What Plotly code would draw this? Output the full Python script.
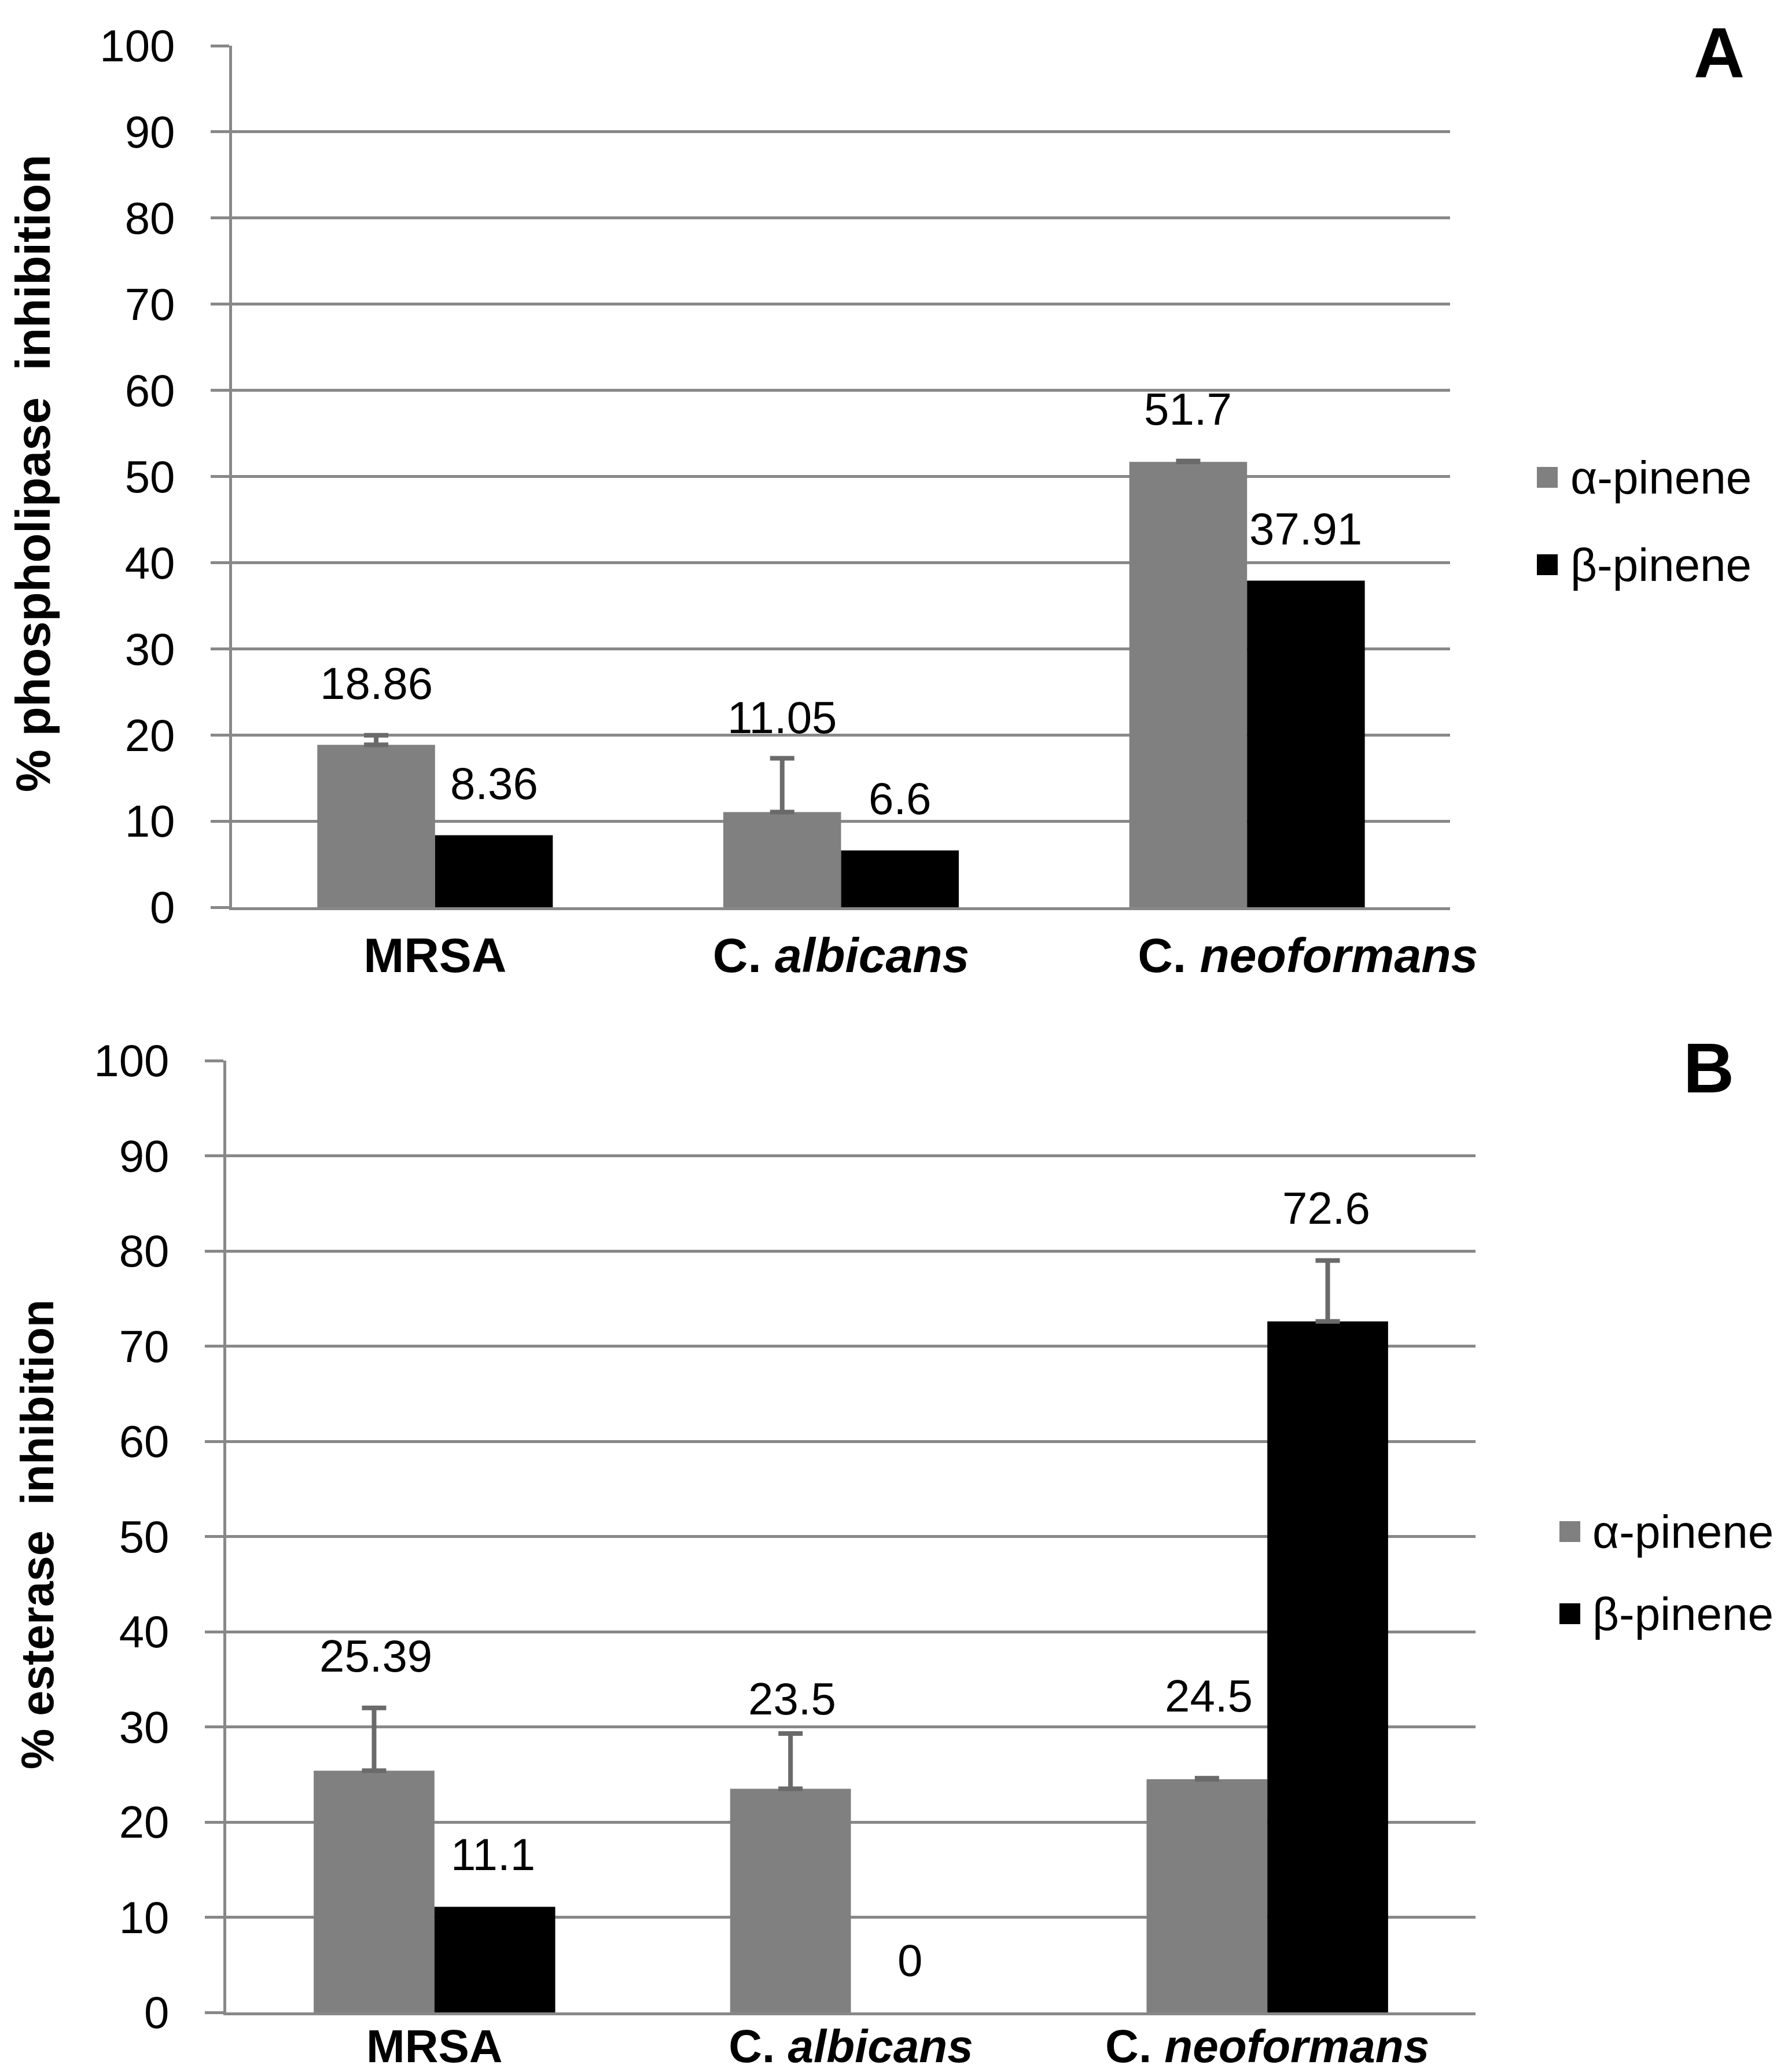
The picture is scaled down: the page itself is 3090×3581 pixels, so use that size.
import numpy as np
import plotly.graph_objects as go

# ---------------- data ----------------
categories = ["MRSA", "C. albicans", "C. neoformans"]
category_labels_a = ["<b>MRSA</b>", "<b>C. <i>albicans</i></b>",
                     "<b>\u00a0\u00a0\u00a0\u00a0\u00a0\u00a0\u00a0\u00a0\u00a0C. <i>neoformans</i></b>"]
category_labels_b = ["<b>MRSA</b>", "<b>C. <i>albicans</i></b>", "<b>C. <i>neoformans</i></b>"]
series_names = ["α-pinene", "β-pinene"]

phospholipase_alpha = [18.86, 11.05, 51.7]
phospholipase_beta = [8.36, 6.6, 37.91]
phospholipase_alpha_err = [1.1, 6.25, 0.1]
phospholipase_beta_err = [None, None, None]

esterase_alpha = [25.39, 23.5, 24.5]
esterase_beta = [11.1, 0, 72.6]
esterase_alpha_err = [6.6, 5.8, 0.1]
esterase_beta_err = [None, None, 6.4]

y_ticks = [0, 10, 20, 30, 40, 50, 60, 70, 80, 90, 100]
panel_letters = ["A", "B"]
y_titles = ["% phospholipase\u00a0\u00a0inhibition", "% esterase\u00a0\u00a0inhibition"]

# ---------------- style ----------------
W, H = 3090, 3581
PAGE_MARGIN = 8  # default body margin of the html page
FONT = "Liberation Sans, Arial, sans-serif"
GRID = "#888888"
COLORS = ["#808080", "#000000"]
ERR_COLOR = "#6a6a6a"

# manual nudges (px) of some value labels, as in the original figure
label_nudge = {(0, 0, 1): -20, (1, 0, 1): -30, (1, 0, 2): 52}


def px_x(px):
    return (px - PAGE_MARGIN) / W


def px_y(py):
    return 1 - (py - PAGE_MARGIN) / H


panels = [
    dict(x=(401, 2506), y=(79, 1568), gap=0.42, suffix="", ystand=46, xstand=6,
         labels=category_labels_a, xfont=84),
    dict(x=(391, 2550), y=(1833, 3478), gap=0.435, suffix="2", ystand=46, xstand=-15,
         labels=category_labels_b, xfont=80),
]

data_sets = [
    (phospholipase_alpha, phospholipase_beta, phospholipase_alpha_err, phospholipase_beta_err),
    (esterase_alpha, esterase_beta, esterase_alpha_err, esterase_beta_err),
]


def err_array(lst):
    # missing error values become NaN so that no error bar is drawn there
    return np.array([np.nan if e is None else e for e in lst], dtype=float)


def err_minus(lst):
    return np.array([np.nan if e is None else 0.0 for e in lst], dtype=float)


fig = go.Figure()
annotations = []
shapes = []

for p, (panel, ds) in enumerate(zip(panels, data_sets)):
    xa = "x" + panel["suffix"]
    ya = "y" + panel["suffix"]
    vals = [ds[0], ds[1]]
    errs = [ds[2], ds[3]]
    for k in range(2):
        has_err = any(e is not None for e in errs[k])
        fig.add_trace(go.Bar(
            x=categories, y=vals[k], name=series_names[k],
            marker=dict(color=COLORS[k], line=dict(width=0)),
            error_y=dict(type="data", symmetric=False, array=err_array(errs[k]),
                         arrayminus=err_minus(errs[k]),
                         color=ERR_COLOR, thickness=8, width=21,
                         visible=has_err),
            xaxis=xa, yaxis=ya, showlegend=False,
        ))

    x0, x1 = panel["x"]
    cat_px = (x1 - x0) / len(categories)
    bar_px = cat_px * (1 - panel["gap"]) / 2
    for k in range(2):
        for i, c in enumerate(categories):
            v = vals[k][i]
            e = errs[k][i] or 0
            annotations.append(dict(
                x=c, y=v + e, xref=xa, yref=ya,
                text=f"{v:g}", showarrow=False,
                xshift=(k - 0.5) * bar_px, yshift=90 + label_nudge.get((p, k, i), 0),
                yanchor="middle", xanchor="center",
                font=dict(family=FONT, size=78, color="black"),
            ))

    axis_common = dict(showline=True, linecolor=GRID, linewidth=5, automargin=False)
    fig.update_layout(**{
        ("xaxis" + panel["suffix"]): dict(
            domain=[px_x(x0), px_x(x1)], anchor=ya,
            tickmode="array", tickvals=categories, ticktext=panel["labels"],
            ticks="", showgrid=False, ticklabelstandoff=panel["xstand"],
            tickfont=dict(family=FONT, size=panel["xfont"], color="black"),
            **axis_common),
        ("yaxis" + panel["suffix"]): dict(
            domain=[px_y(panel["y"][1]), px_y(panel["y"][0])], anchor=xa,
            range=[0, 100], tickmode="array", tickvals=y_ticks,
            ticks="outside", ticklen=32, tickwidth=5, tickcolor=GRID,
            showgrid=True, gridcolor=GRID, gridwidth=5, zeroline=False,
            ticklabelstandoff=panel["ystand"],
            tickfont=dict(family=FONT, size=78, color="black"),
            **axis_common),
    })

# y-axis titles
y_title_pos = [(57, 818, 83), (64, 2652, 79)]
for t, (tx, ty, fs) in zip(y_titles, y_title_pos):
    annotations.append(dict(
        x=px_x(tx), y=px_y(ty), xref="paper", yref="paper",
        text=f"<b>{t}</b>", textangle=-90, showarrow=False,
        xanchor="center", yanchor="middle",
        font=dict(family=FONT, size=fs, color="black"),
    ))

# panel letters
letter_pos = [(2971, 92), (2953, 1846)]
for t, (tx, ty) in zip(panel_letters, letter_pos):
    annotations.append(dict(
        x=px_x(tx), y=px_y(ty), xref="paper", yref="paper",
        text=f"<b>{t}</b>", showarrow=False,
        xanchor="center", yanchor="middle",
        font=dict(family=FONT, size=122, color="black"),
    ))

# legends (square swatch + label), one per panel
legend_pos = [dict(sx=2674, tx=2712, ys=[825, 976]), dict(sx=2713, tx=2750, ys=[2647, 2789])]
SQ = 36
for lp in legend_pos:
    for k in range(2):
        cy = lp["ys"][k]
        shapes.append(dict(
            type="rect", xref="paper", yref="paper",
            x0=px_x(lp["sx"] - SQ / 2), x1=px_x(lp["sx"] + SQ / 2),
            y0=px_y(cy + SQ / 2), y1=px_y(cy - SQ / 2),
            fillcolor=COLORS[k], line=dict(width=0),
        ))
        annotations.append(dict(
            x=px_x(lp["tx"]), y=px_y(cy), xref="paper", yref="paper",
            text=series_names[k], showarrow=False,
            xanchor="left", yanchor="middle",
            font=dict(family=FONT, size=80, color="black"),
        ))

fig.update_layout(
    width=W, height=H,
    margin=dict(l=0, r=0, t=0, b=0, autoexpand=False),
    paper_bgcolor="white", plot_bgcolor="white",
    barmode="group", bargap=0.42, bargroupgap=0,
    showlegend=False,
    annotations=annotations, shapes=shapes,
)

fig.write_html("out.html")
